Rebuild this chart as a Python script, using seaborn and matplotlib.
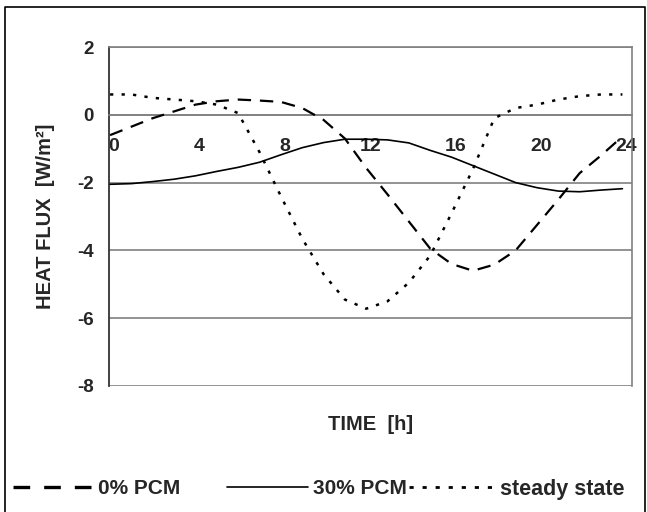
import numpy as np
import pandas as pd
import matplotlib
matplotlib.use("Agg")
import matplotlib.pyplot as plt
from matplotlib.lines import Line2D
from matplotlib.ticker import FixedLocator, MultipleLocator
from matplotlib.transforms import ScaledTranslation
import seaborn as sns

# Hourly heat flux through the wall over one day
hours = list(range(0, 25))
pcm_0 = [-0.60, -0.35, -0.10, 0.10, 0.30, 0.40, 0.45, 0.42, 0.38, 0.20,
         -0.15, -0.70, -1.57, -2.35, -3.15, -3.95, -4.40, -4.60, -4.42,
         -4.00, -3.25, -2.50, -1.72, -1.20, -0.64]
pcm_30 = [-2.05, -2.03, -1.97, -1.90, -1.80, -1.67, -1.55, -1.40, -1.18,
          -0.97, -0.82, -0.72, -0.72, -0.74, -0.83, -1.05, -1.25, -1.50,
          -1.75, -2.00, -2.15, -2.25, -2.27, -2.22, -2.18]
steady = [0.60, 0.60, 0.50, 0.45, 0.40, 0.30, 0.05, -1.10, -2.40, -3.65,
          -4.70, -5.45, -5.72, -5.50, -4.95, -4.15, -2.90, -1.60, -0.10,
          0.20, 0.30, 0.45, 0.55, 0.60, 0.60]
series_names = ["0% PCM", "30% PCM", "steady state"]
x_tick_values = [0, 4, 8, 12, 16, 20, 24]
x_tick_labels = ["0", "4", "8", "12", "16", "20", "24"]
y_tick_values = [-8, -6, -4, -2, 0, 2]

df = pd.DataFrame({
    "hour": hours * 3,
    "flux": pcm_0 + pcm_30 + steady,
    "series": [series_names[0]] * 25 + [series_names[1]] * 25 + [series_names[2]] * 25,
})

sns.set_style("white")
plt.rcParams["font.family"] = ["Liberation Sans", "DejaVu Sans"]
plt.rcParams["font.weight"] = "bold"
plt.rcParams["axes.unicode_minus"] = False

W, H = 647, 512
fig = plt.figure(figsize=(W / 100, H / 100), dpi=100)
ax = fig.add_axes([109 / W, (H - 386) / H, (632 - 109) / W, (386 - 47) / H])

grey = "#808080"
dash_styles = {"0% PCM": (6, 4), "30% PCM": "", "steady state": (1.3, 3.3)}
sns.lineplot(data=df, x="hour", y="flux", style="series", dashes=dash_styles,
             color="black", legend=False, ax=ax, zorder=3)
lines = ax.get_lines()
lines[0].set_linewidth(1.6)
lines[1].set_linewidth(1.2)
lines[2].set_linewidth(1.8)

ax.set_xlim(-0.05, 24.45)
ax.set_ylim(-8, 2)

# Horizontal axis crosses at zero
ax.spines["bottom"].set_position(("data", 0))
for side in ["bottom", "top", "right"]:
    ax.spines[side].set_color(grey)
    ax.spines[side].set_linewidth(1.2)
ax.spines["left"].set_color("#333333")
ax.spines["left"].set_linewidth(1.3)

ax.yaxis.set_major_locator(FixedLocator(y_tick_values))
ax.yaxis.set_minor_locator(MultipleLocator(1))
ax.yaxis.grid(True, which="major", color=grey, linewidth=1.2)
ax.set_axisbelow(True)

ax.xaxis.set_major_locator(FixedLocator(x_tick_values))
ax.xaxis.set_minor_locator(MultipleLocator(2))
ax.set_xticklabels(x_tick_labels)
ax.tick_params(axis="x", which="both", direction="out", length=3.5, width=1,
               color=grey, pad=13, labelsize=14)
ax.tick_params(axis="y", which="both", direction="out", length=3.5, width=1.2,
               color="#333333", labelsize=13.5, pad=7.5)
shift = ScaledTranslation(4 / 100, 0, fig.dpi_scale_trans)
for lbl in ax.get_xticklabels():
    lbl.set_fontweight("bold")
    lbl.set_transform(lbl.get_transform() + shift)
for lbl in ax.get_yticklabels():
    lbl.set_fontweight("bold")

ax.set_xlabel("TIME  [h]", fontsize=14.5, fontweight="bold")
ax.xaxis.label.set_va("center")
ax.xaxis.set_label_coords(0.5, (386 - 425) / 339)
ax.set_ylabel("HEAT FLUX  [W/m²]", fontsize=14.5, fontweight="bold")
ax.yaxis.label.set_va("center")
ax.yaxis.set_label_coords((46 - 109) / 523, 0.5)

# Legend entries along the bottom
legend_styles = [(0, (5, 4.2)), "-", (0, (1.5, 3.2))]
legend_widths = [2.4, 1.2, 2.0]
legend_x = [13, 227, 409]
legend_len = [80, 81, 86]
legend_size = [15, 15, 15.5]
for name, ls, lw, x0, hl, fs in zip(series_names, legend_styles, legend_widths,
                                    legend_x, legend_len, legend_size):
    handle = Line2D([], [], color="black", linestyle=ls, linewidth=lw)
    fig.legend(handles=[handle], labels=[name], loc="center left",
               bbox_to_anchor=(x0 / W, 1 - 489 / H), frameon=False,
               borderpad=0, borderaxespad=0,
               handlelength=hl * 0.72 / fs, handletextpad=0.25,
               prop={"size": fs, "weight": "bold"})

# Chart frame
frame = Line2D([5 / W, 5 / W, 645 / W, 645 / W], [0, 1 - 7 / H, 1 - 7 / H, 0],
               transform=fig.transFigure, color="black", linewidth=1.2)
fig.add_artist(frame)

fig.savefig("out.png", dpi=100, facecolor="white")
